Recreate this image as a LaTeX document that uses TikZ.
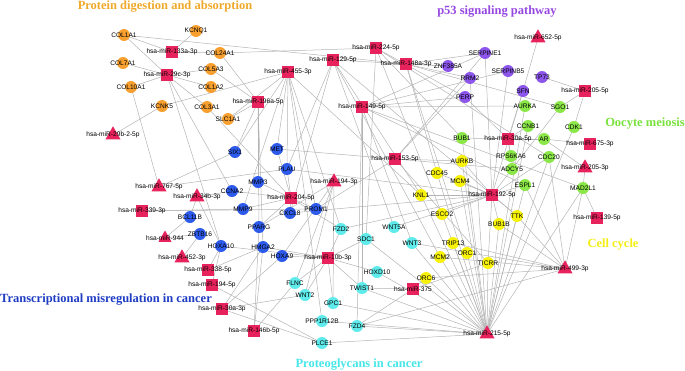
\documentclass[tikz,border=0pt]{standalone}
\usepackage{fontspec}
\setmainfont{Liberation Sans}
\newfontfamily\titlefont{Liberation Serif}
\usetikzlibrary{shapes.geometric}
\definecolor{cOr}{RGB}{247,160,48}
\definecolor{cPk}{RGB}{232,34,92}
\definecolor{cPu}{RGB}{140,85,235}
\definecolor{cGr}{RGB}{140,232,72}
\definecolor{cYe}{RGB}{248,242,10}
\definecolor{cBl}{RGB}{45,90,235}
\definecolor{cCy}{RGB}{95,235,235}
\definecolor{cEd}{RGB}{180,180,180}
\definecolor{tOr}{RGB}{240,168,40}
\definecolor{tPu}{RGB}{150,70,225}
\definecolor{tGr}{RGB}{120,225,60}
\definecolor{tYe}{RGB}{245,238,20}
\definecolor{tBl}{RGB}{30,60,195}
\definecolor{tCy}{RGB}{70,230,232}
\newcommand\lb[1]{\hbox to 0pt{\hss#1\hss}}
\pgfdeclarelayer{bg}
\pgfsetlayers{bg,main}
\tikzset{
  gene/.style={circle,inner sep=0pt,minimum size=12pt,font=\fontsize{6.6}{7}\selectfont},
  oc/.style={gene,fill=cOr},
  pc/.style={gene,fill=cPu},
  gc/.style={gene,fill=cGr},
  yc/.style={gene,fill=cYe},
  bc/.style={gene,fill=cBl},
  cc/.style={gene,fill=cCy},
  sq/.style={rectangle,inner sep=0pt,minimum size=12.5pt,fill=cPk,font=\fontsize{6.6}{7}\selectfont},
  tri/.style={regular polygon,regular polygon sides=3,inner sep=0pt,minimum size=15pt,fill=cPk,font=\fontsize{6.6}{7}\selectfont},
  edge/.style={draw=cEd,line width=0.5pt},
  ttl/.style={font=\titlefont\bfseries\fontsize{12.5}{14}\selectfont,inner sep=0pt,anchor=base}
}
\begin{document}
\begin{tikzpicture}[x=1pt,y=-1pt]
\useasboundingbox (0,0) rectangle (685,370);
% titles
\node[ttl,text=tOr] (t1) at (165,9) {Protein digestion and absorption};
\node[ttl,text=tPu] (t2) at (497,14) {p53 signaling pathway};
\node[ttl,text=tGr] (t3) at (645,126) {Oocyte meiosis};
\node[ttl,text=tYe] (t4) at (613,247) {Cell cycle};
\node[ttl,text=tBl] (t5) at (106,302) {Transcriptional misregulation in cancer};
\node[ttl,text=tCy] (t6) at (359,367) {Proteoglycans in cancer};
% orange
\node[oc] (col1a1) at (124,35) {\lb{COL1A1}};
\node[oc] (kcnq1) at (196,31) {\lb{KCNQ1}};
\node[oc] (col24a1) at (220,53) {\lb{COL24A1}};
\node[oc] (col7a1) at (123,63) {\lb{COL7A1}};
\node[oc] (col5a3) at (211,69) {\lb{COL5A3}};
\node[oc] (col10a1) at (131,87) {\lb{COL10A1}};
\node[oc] (col1a2) at (211,87) {\lb{COL1A2}};
\node[oc] (kcnk5) at (162,106) {\lb{KCNK5}};
\node[oc] (col3a1) at (207,107) {\lb{COL3A1}};
\node[oc] (slc1a1) at (228,119) {\lb{SLC1A1}};
% purple
\node[pc] (znf) at (448,66) {\lb{ZNF385A}};
\node[pc] (serpine1) at (485,53) {\lb{SERPINE1}};
\node[pc] (serpinb5) at (508,71) {\lb{SERPINB5}};
\node[pc] (rrm2) at (470,78) {\lb{RRM2}};
\node[pc] (tp73) at (542,77) {\lb{TP73}};
\node[pc] (perp) at (465,97) {\lb{PERP}};
\node[pc] (sfn) at (523,91) {\lb{SFN}};
% green
\node[gc] (aurka) at (525,106) {\lb{AURKA}};
\node[gc] (sgo1) at (560,107) {\lb{SGO1}};
\node[gc] (ccnb1) at (528,126) {\lb{CCNB1}};
\node[gc] (cdk1) at (574,127) {\lb{CDK1}};
\node[gc] (ar) at (544,139) {\lb{AR}};
\node[gc] (bub1) at (462,138) {\lb{BUB1}};
\node[gc] (rps6ka6) at (511,156) {\lb{RPS6KA6}};
\node[gc] (cdc20) at (549,157) {\lb{CDC20}};
\node[gc] (adcy5) at (512,169) {\lb{ADCY5}};
\node[gc] (espl1) at (525,185) {\lb{ESPL1}};
\node[gc] (mad2l1) at (583,188) {\lb{MAD2L1}};
% yellow
\node[yc] (aurkb) at (462,161) {\lb{AURKB}};
\node[yc] (cdc45) at (437,173) {\lb{CDC45}};
\node[yc] (mcm4) at (460,181) {\lb{MCM4}};
\node[yc] (knl1) at (421,195) {\lb{KNL1}};
\node[yc] (esco2) at (442,214) {\lb{ESCO2}};
\node[yc] (ttk) at (517,216) {\lb{TTK}};
\node[yc] (bub1b) at (499,224) {\lb{BUB1B}};
\node[yc] (trip13) at (453,243) {\lb{TRIP13}};
\node[yc] (orc1) at (467,253) {\lb{ORC1}};
\node[yc] (mcm2) at (440,257) {\lb{MCM2}};
\node[yc] (ticrr) at (488,263) {\lb{TICRR}};
\node[yc] (orc6) at (426,278) {\lb{ORC6}};
% blue
\node[bc] (six1) at (235,152) {\lb{SIX1}};
\node[bc] (met) at (277,149) {\lb{MET}};
\node[bc] (plau) at (287,169) {\lb{PLAU}};
\node[bc] (mmp3) at (258,182) {\lb{MMP3}};
\node[bc] (ccna2) at (232,191) {\lb{CCNA2}};
\node[bc] (mmp9) at (243,209) {\lb{MMP9}};
\node[bc] (cxcl8) at (290,213) {\lb{CXCL8}};
\node[bc] (prom1) at (316,209) {\lb{PROM1}};
\node[bc] (bcl11b) at (190,217) {\lb{BCL11B}};
\node[bc] (pparg) at (259,227) {\lb{PPARG}};
\node[bc] (zbtb16) at (200,234) {\lb{ZBTB16}};
\node[bc] (hoxa10) at (221,246) {\lb{HOXA10}};
\node[bc] (hmga2) at (263,247) {\lb{HMGA2}};
\node[bc] (hoxa9) at (282,256) {\lb{HOXA9}};
% cyan
\node[cc] (fzd2) at (341,229) {\lb{FZD2}};
\node[cc] (sdc1) at (366,239) {\lb{SDC1}};
\node[cc] (wnt5a) at (394,227) {\lb{WNT5A}};
\node[cc] (wnt3) at (412,243) {\lb{WNT3}};
\node[cc] (hoxd10) at (377,272) {\lb{HOXD10}};
\node[cc] (flnc) at (295,283) {\lb{FLNC}};
\node[cc] (twist1) at (362,288) {\lb{TWIST1}};
\node[cc] (wnt2) at (305,295) {\lb{WNT2}};
\node[cc] (gpc1) at (333,303) {\lb{GPC1}};
\node[cc] (ppp1r12b) at (322,321) {\lb{PPP1R12B}};
\node[cc] (fzd4) at (357,326) {\lb{FZD4}};
\node[cc] (plce1) at (322,343) {\lb{PLCE1}};
% miRNA squares
\node[sq] (m133a) at (172,52) {\lb{hsa-miR-133a-3p}};
\node[sq] (m29c) at (167,75) {\lb{hsa-miR-29c-3p}};
\node[sq] (m129) at (333,60) {\lb{hsa-miR-129-5p}};
\node[sq] (m224) at (376,48) {\lb{hsa-miR-224-5p}};
\node[sq] (m455) at (288,72) {\lb{hsa-miR-455-3p}};
\node[sq] (m148a) at (406,64) {\lb{hsa-miR-148a-3p}};
\node[sq] (m196a) at (258,102) {\lb{hsa-miR-196a-5p}};
\node[sq] (m149) at (362,107) {\lb{hsa-miR-149-5p}};
\node[sq] (m205) at (585,91) {\lb{hsa-miR-205-5p}};
\node[sq] (m30a5) at (508,139) {\lb{hsa-miR-30a-5p}};
\node[sq] (m675) at (590,144) {\lb{hsa-miR-675-3p}};
\node[sq] (m192) at (492,195) {\lb{hsa-miR-192-5p}};
\node[sq] (m139) at (597,218) {\lb{hsa-miR-139-5p}};
\node[sq] (m153) at (395,159) {\lb{hsa-miR-153-5p}};
\node[sq] (m204) at (291,198) {\lb{hsa-miR-204-5p}};
\node[sq] (m339) at (142,211) {\lb{hsa-miR-339-3p}};
\node[sq] (m338) at (208,270) {\lb{hsa-miR-338-5p}};
\node[sq] (m194) at (212,285) {\lb{hsa-miR-194-5p}};
\node[sq] (m30a3) at (222,309) {\lb{hsa-miR-30a-3p}};
\node[sq] (m146b) at (254,331) {\lb{hsa-miR-146b-5p}};
\node[sq] (m10b) at (328,258) {\lb{hsa-miR-10b-3p}};
\node[sq] (m375) at (413,289) {\lb{hsa-miR-375}};
% miRNA triangles
\node[tri] (m652) at (538,38) {\lb{hsa-miR-652-5p}};
\node[tri] (m29b) at (113,135) {\lb{hsa-miR-29b-2-5p}};
\node[tri] (m767) at (159,187) {\lb{hsa-miR-767-5p}};
\node[tri] (m34b) at (197,197) {\lb{hsa-miR-34b-3p}};
\node[tri] (m944) at (165,238) {\lb{hsa-miR-944}};
\node[tri] (m452) at (182,258) {\lb{hsa-miR-452-3p}};
\node[tri] (m194t) at (334,182) {\lb{hsa-miR-194-3p}};
\node[tri] (m2053) at (585,168) {\lb{hsa-miR-205-3p}};
\node[tri] (m499) at (565,269) {\lb{hsa-miR-499-3p}};
\node[tri] (m215) at (487,334) {\lb{hsa-miR-215-5p}};
\begin{pgfonlayer}{bg}
\foreach \a/\b in {col1a1/m133a, col1a1/m29c, col1a1/m148a, kcnq1/m133a, col24a1/m133a, col24a1/m196a, col24a1/m224, col7a1/m29c, col10a1/m29c, col10a1/m767, col1a2/m29c, col5a3/m29c, col3a1/m29c, col5a3/m196a, col3a1/m204, slc1a1/m196a, slc1a1/m455, kcnk5/m29b, kcnk5/m455, m29c/ccna2, m29c/hoxa10,
m652/sfn, m205/tp73, m205/sgo1, m205/cdk1, serpine1/m148a, serpine1/m149, serpine1/m153, serpine1/m192, znf/m148a, znf/m129, serpinb5/m149, serpinb5/m192, rrm2/m148a, rrm2/m153, rrm2/m215, perp/m149, perp/m224, perp/m30a5, sfn/m192, sfn/m30a5,
aurka/m149, aurka/m215, sgo1/m192, ccnb1/m30a5, ccnb1/m215, cdk1/m215, ar/m30a5, ar/m675, ar/m2053, bub1/m30a5, bub1/m224, bub1/m215, rps6ka6/m30a5, cdc20/m499, cdc20/m192, cdc20/m215, adcy5/m30a5, adcy5/m153, espl1/m192, espl1/m499, espl1/m215, mad2l1/m139, mad2l1/m499, mad2l1/m215, mad2l1/m2053,
aurkb/m192, aurkb/m215, aurkb/m153, cdc45/m192, cdc45/m215, cdc45/m148a, mcm4/m192, mcm4/m215, knl1/m192, knl1/m215, knl1/m129, esco2/m192, esco2/m215, esco2/m224, ttk/m192, ttk/m215, ttk/m499, bub1b/m192, bub1b/m215, bub1b/m499, trip13/m215, trip13/m499, orc1/m215, orc1/m148a, mcm2/m215, mcm2/m499, ticrr/m215, ticrr/m192, ticrr/m153, orc6/m215, orc6/m499, orc6/m375,
six1/m196a, six1/m455, six1/m767, met/m455, met/m153, met/m204, plau/m455, plau/m129, plau/m204, plau/m192, plau/m767, mmp3/m196a, mmp3/m204, ccna2/m34b, ccna2/m204, mmp9/m339, mmp9/m204, mmp9/m455, cxcl8/m204, cxcl8/m129, cxcl8/m192, prom1/m204, prom1/m153, prom1/m455, prom1/m339, bcl11b/m944, bcl11b/m34b, pparg/m204, pparg/m146b, pparg/m196a, pparg/m194t, zbtb16/m452, zbtb16/m944, hoxa10/m338, hoxa10/m194, hoxa10/m10b, hoxa10/m34b, hmga2/m146b, hmga2/m30a3, hmga2/m10b, hmga2/m196a, hmga2/m338, hoxa9/m10b, hoxa9/m30a3, hoxa9/m194t,
fzd2/m204, fzd2/m192, fzd2/m10b, fzd2/m455, sdc1/m10b, sdc1/m224, sdc1/m215, wnt5a/m192, wnt5a/m129, wnt3/m215, wnt3/m149, wnt3/m499, hoxd10/m10b, hoxd10/m215, flnc/m10b, flnc/m146b, flnc/m194t, twist1/m10b, twist1/m149, twist1/m215, twist1/m375, wnt2/m30a3, wnt2/m10b, wnt2/m194t, gpc1/m10b, gpc1/m215, gpc1/m194t, ppp1r12b/m215, ppp1r12b/m455, fzd4/m215, fzd4/m499, fzd4/m375, fzd4/m149, plce1/m215, plce1/m30a3, plce1/m194,
m375/ticrr, mad2l1/m149, espl1/m149, ttk/m129, knl1/m455, mcm2/m129, cdc20/m224, sgo1/m148a}
  \draw[edge] (\a.center) -- (\b.center);
\end{pgfonlayer}
\end{tikzpicture}
\end{document}
